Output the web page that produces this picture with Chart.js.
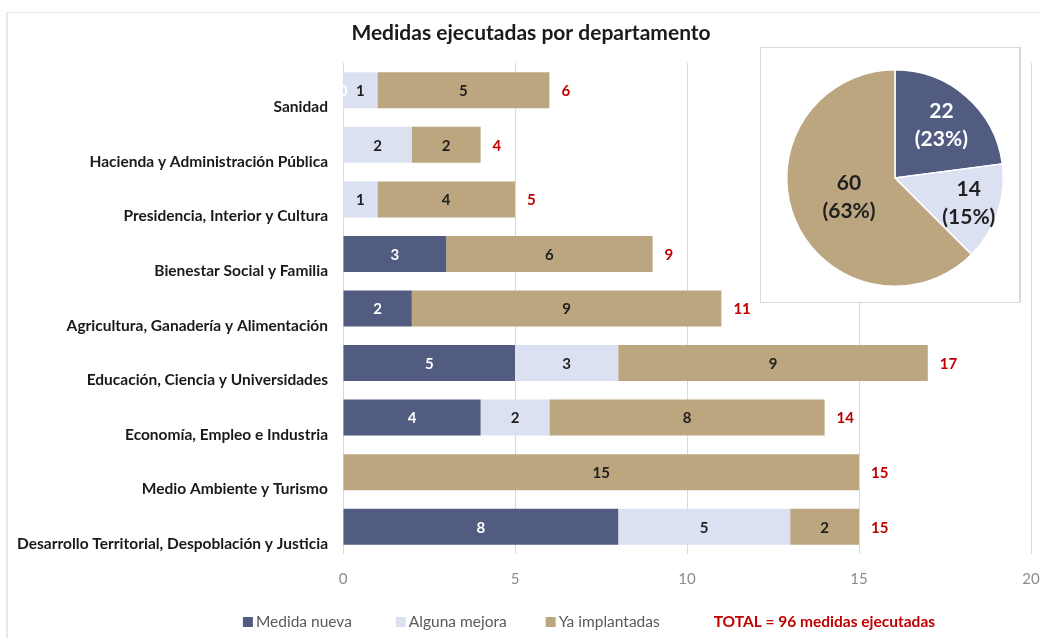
<!DOCTYPE html>
<html>
<head>
<meta charset="utf-8">
<script src="https://cdn.jsdelivr.net/npm/chart.js@4"></script>
<style>
  body { margin: 0; background: #fff; }
  #wrap { position: relative; width: 1040px; height: 638px; overflow: hidden; }
  #frame { position: absolute; left: 6px; top: 12px; width: 1100px; height: 700px;
           border-top: 1px solid #EEE9DD; border-left: 2px solid #EEE9DD; }
  #mainChart { position: absolute; left: 0; top: 0; }
  #pieBox { position: absolute; left: 760px; top: 47px; width: 258px; height: 254px;
            border: 1px solid #D9D9D9; border-right-width: 2px; background: #fff; }
  #pieChart { position: absolute; left: 785px; top: 68px; }
</style>
</head>
<body>
<div id="wrap">
  <div id="frame"></div>
  <canvas id="mainChart" width="1060" height="638"></canvas>
  <div id="pieBox"></div>
  <canvas id="pieChart" width="220" height="220"></canvas>
</div>
<script>
const departamentos = [
    "Sanidad",
    "Hacienda y Administración Pública",
    "Presidencia, Interior y Cultura",
    "Bienestar Social y Familia",
    "Agricultura, Ganadería y Alimentación",
    "Educación, Ciencia y Universidades",
    "Economía, Empleo e Industria",
    "Medio Ambiente y Turismo",
    "Desarrollo Territorial, Despoblación y Justicia"
];
const medidaNueva   = [0, null, null, 3, 2, 5, 4, null, 8];
const algunaMejora  = [1, 2, 1, null, null, 3, 2, null, 5];
const yaImplantadas = [5, 2, 4, 6, 9, 9, 8, 15, 2];
const xTicks = [0, 5, 10, 15, 20];

const pieLabels = ["Medida nueva", "Alguna mejora", "Ya implantadas"];
const pieValues = [22, 14, 60];
const titleText = "Medidas ejecutadas por departamento";
const totalText = "TOTAL = 96 medidas ejecutadas";

const colors = ["#515C80", "#DCE1F1", "#BBA67F"];
const valueColors = ["#ffffff", "#1F1F1F", "#1F1F1F"];
const RED = "#C00000";
const FONT = "Lato, 'Open Sans', sans-serif";

const totals = departamentos.map((_, i) =>
    (medidaNueva[i] || 0) + (algunaMejora[i] || 0) + (yaImplantadas[i] || 0));

// numbers inside the bars + red totals
const barLabels = {
    id: "barLabels",
    afterDatasetsDraw(chart) {
        const c = chart.ctx;
        c.save();
        c.font = "bold 15px " + FONT;
        c.textAlign = "center";
        c.textBaseline = "middle";
        chart.data.datasets.forEach((ds, i) => {
            const meta = chart.getDatasetMeta(i);
            meta.data.forEach((bar, j) => {
                const v = ds.data[j];
                if (v === null || v === undefined) return;
                c.fillStyle = valueColors[i];
                c.fillText(String(v), (bar.x + bar.base) / 2, bar.y + 1);
            });
        });
        const xs = chart.scales.x;
        const meta0 = chart.getDatasetMeta(2);
        c.fillStyle = RED;
        c.textAlign = "left";
        totals.forEach((t, j) => {
            c.fillText(String(t), xs.getPixelForValue(t) + 12, meta0.data[j].y + 1);
        });
        c.restore();
    }
};

// title + legend row at the bottom (three series + total note)
const titleAndLegend = {
    id: "titleAndLegend",
    afterDraw(chart) {
        const c = chart.ctx;
        c.save();
        c.textBaseline = "middle";
        c.textAlign = "center";
        c.fillStyle = "#1A1A1A";
        c.font = "bold 21px " + FONT;
        c.fillText(titleText, 531, 33);

        c.textAlign = "left";
        const y = 622;
        const items = pieLabels.map((l, i) => ({ text: l, color: colors[i], font: "15.5px " + FONT }));
        items.push({ text: totalText, color: null, font: "bold 15.5px " + FONT });
        const gaps = [44, 39, 54];
        let widths = items.map(it => { c.font = it.font; return c.measureText(it.text).width + (it.color ? 13 : 0); });
        let total = widths.reduce((a, b) => a + b, 0) + gaps.reduce((a, b) => a + b, 0);
        let x = 589 - total / 2;
        items.forEach((it, i) => {
            c.font = it.font;
            if (it.color) {
                c.fillStyle = it.color;
                c.fillRect(x, y - 5, 10, 10);
                c.fillStyle = "#595959";
                c.fillText(it.text, x + 13, y);
            } else {
                c.fillStyle = RED;
                c.fillText(it.text, x, y);
            }
            x += widths[i] + (gaps[i] || 0);
        });
        c.restore();
    }
};

new Chart(document.getElementById("mainChart"), {
    type: "bar",
    data: {
        labels: departamentos,
        datasets: [
            { label: pieLabels[0], data: medidaNueva, backgroundColor: colors[0] },
            { label: pieLabels[1], data: algunaMejora, backgroundColor: colors[1] },
            { label: pieLabels[2], data: yaImplantadas, backgroundColor: colors[2] }
        ]
    },
    options: {
        indexAxis: "y",
        responsive: false,
        animation: false,
        events: [],
        categoryPercentage: 1,
        barPercentage: 0.66,
        layout: { padding: { left: 4, right: 29, top: 63, bottom: 50 } },
        scales: {
            x: {
                stacked: true,
                min: 0,
                max: 20,
                afterBuildTicks: s => { s.ticks = xTicks.map(v => ({ value: v })); },
                afterFit: s => { s.height = 34; },
                border: { display: false },
                grid: { color: "#D9D9D9", drawTicks: false },
                ticks: { padding: 16, color: "#8C8C8C", font: { family: FONT, size: 15 } }
            },
            y: {
                stacked: true,
                afterFit: s => { s.width = 339; },
                border: { display: false },
                grid: { display: false, drawTicks: false },
                ticks: {
                    padding: 15,
                    labelOffset: 17,
                    color: "#1A1A1A",
                    font: { family: FONT, size: 15.5, weight: "bold" }
                }
            }
        },
        plugins: {
            legend: { display: false },
            tooltip: { enabled: false },
            title: { display: false }
        }
    },
    plugins: [barLabels, titleAndLegend]
});

// inset pie
const pieRadius = [0.65, 0.72, 0.46];
const pieText = {
    id: "pieText",
    afterDatasetsDraw(chart) {
        const c = chart.ctx;
        const sum = pieValues.reduce((a, b) => a + b, 0);
        c.save();
        c.font = "bold 21px " + FONT;
        c.textAlign = "center";
        c.textBaseline = "middle";
        chart.getDatasetMeta(0).data.forEach((arc, i) => {
            const p = arc.getProps(["x", "y", "startAngle", "endAngle", "outerRadius"]);
            const mid = (p.startAngle + p.endAngle) / 2;
            const r = p.outerRadius * pieRadius[i];
            const cx = p.x + Math.cos(mid) * r;
            const cy = p.y + Math.sin(mid) * r;
            c.fillStyle = i === 0 ? "#ffffff" : "#1F1F1F";
            c.fillText(String(pieValues[i]), cx, cy - 14);
            c.fillText("(" + Math.round(pieValues[i] / sum * 100) + "%)", cx, cy + 14);
        });
        c.restore();
    }
};

new Chart(document.getElementById("pieChart"), {
    type: "pie",
    data: {
        labels: pieLabels,
        datasets: [{ data: pieValues, backgroundColor: colors, borderColor: "#ffffff", borderWidth: 1.5 }]
    },
    options: {
        responsive: false,
        animation: false,
        events: [],
        layout: { padding: 1 },
        plugins: { legend: { display: false }, tooltip: { enabled: false } }
    },
    plugins: [pieText]
});
</script>
</body>
</html>
